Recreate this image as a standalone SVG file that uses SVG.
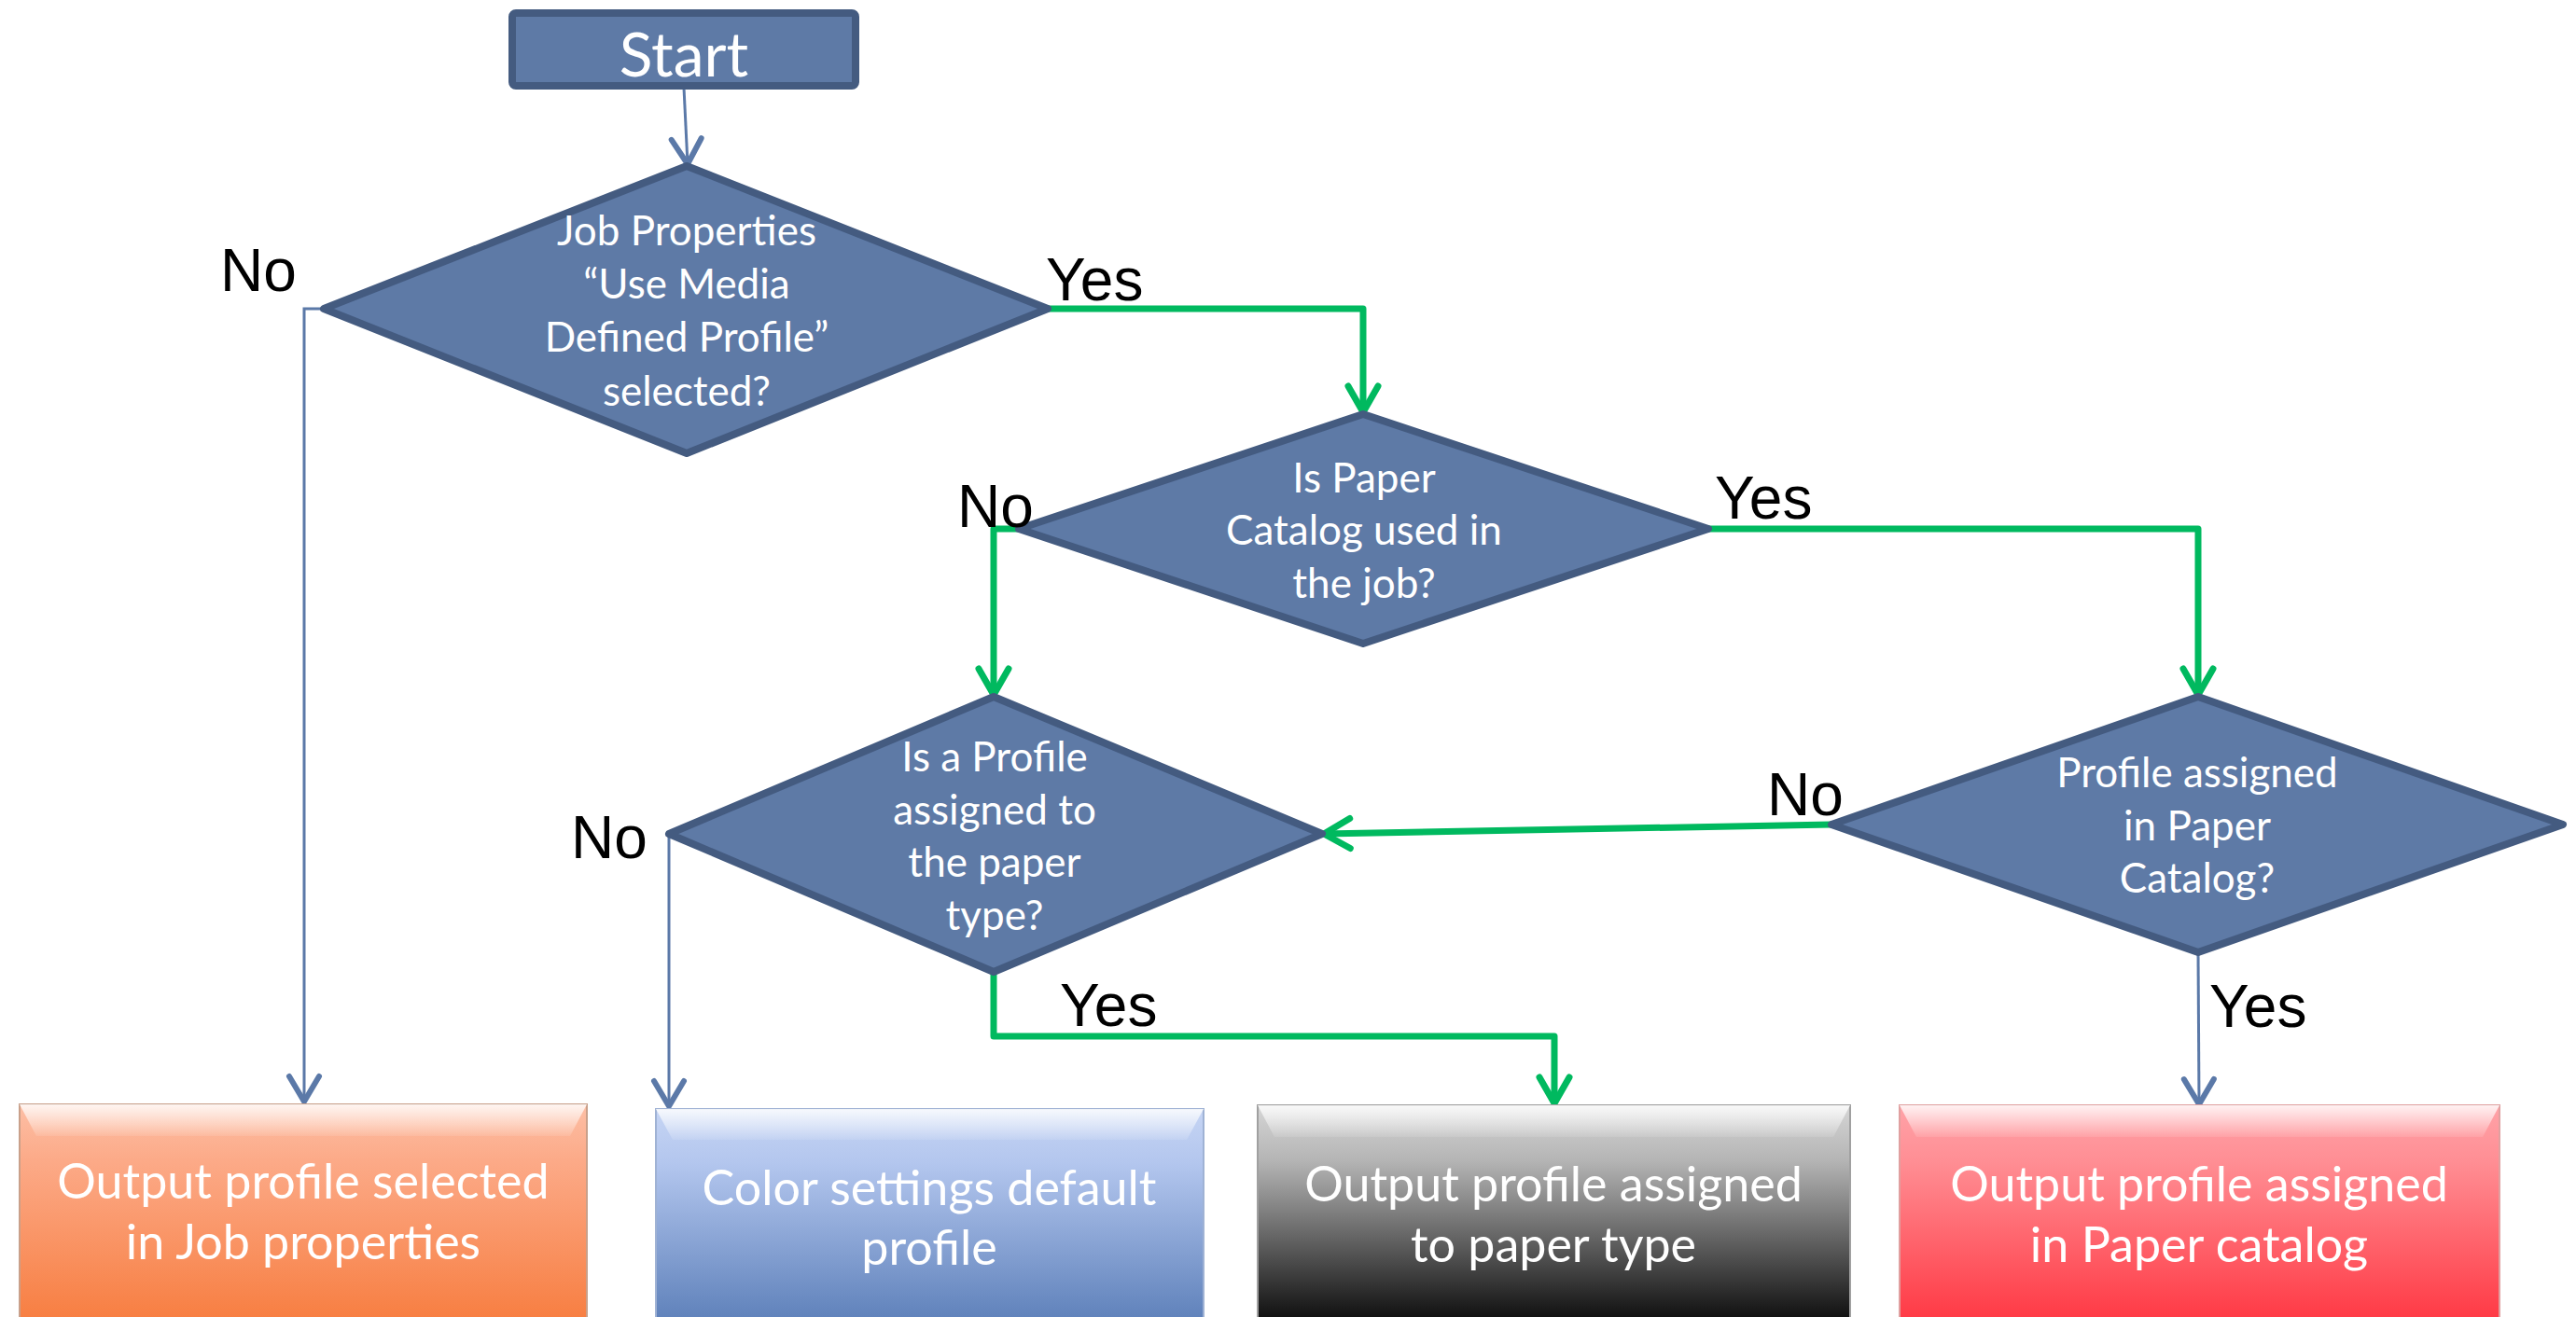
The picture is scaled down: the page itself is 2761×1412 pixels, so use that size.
<svg xmlns="http://www.w3.org/2000/svg" width="2761" height="1412" viewBox="0 0 2761 1412">
  <style>
    .dia { fill: #5e7aa6; stroke: #445b80; stroke-width: 8; stroke-linejoin: round; }
    .dtxt { font-family: Lato, "Open Sans", sans-serif; font-size: 44px; fill: #ffffff; text-anchor: middle; }
    .btxt { font-family: Lato, "Open Sans", sans-serif; font-size: 52px; fill: #ffffff; text-anchor: middle; }
    .lbl { font-family: "Liberation Sans", Arial, sans-serif; font-size: 64px; fill: #000000; }
    .blue { fill: none; stroke: #5b79a8; stroke-width: 3; marker-end: url(#arrBlue); }
    .green { fill: none; stroke: #00b95f; stroke-width: 7; stroke-linejoin: round; marker-end: url(#arrGreen); }
    .gloss { fill: url(#glossG); }
  </style>
  <defs>
    <marker id="arrGreen" markerUnits="userSpaceOnUse" markerWidth="50" markerHeight="50" refX="36" refY="25" orient="auto" overflow="visible">
      <path d="M8,9 L36,25 L8,41" fill="none" stroke="#00b95f" stroke-width="7" stroke-linecap="round" stroke-linejoin="round"/>
    </marker>
    <marker id="arrBlue" markerUnits="userSpaceOnUse" markerWidth="50" markerHeight="50" refX="36" refY="25" orient="auto" overflow="visible">
      <path d="M9,9 L36,25 L9,41" fill="none" stroke="#5b79a8" stroke-width="6" stroke-linecap="round" stroke-linejoin="round"/>
    </marker>
    <linearGradient id="gOrange" x1="0" y1="0" x2="0" y2="1">
      <stop offset="0" stop-color="#fdbfa6"/>
      <stop offset="0.25" stop-color="#fcaa88"/>
      <stop offset="1" stop-color="#f77c3e"/>
    </linearGradient>
    <linearGradient id="gBlue" x1="0" y1="0" x2="0" y2="1">
      <stop offset="0" stop-color="#c6d5f4"/>
      <stop offset="0.25" stop-color="#b3c6ee"/>
      <stop offset="1" stop-color="#5b7eb8"/>
    </linearGradient>
    <linearGradient id="gGray" x1="0" y1="0" x2="0" y2="1">
      <stop offset="0" stop-color="#d6d6d6"/>
      <stop offset="0.25" stop-color="#b4b4b4"/>
      <stop offset="1" stop-color="#050505"/>
    </linearGradient>
    <linearGradient id="gRed" x1="0" y1="0" x2="0" y2="1">
      <stop offset="0" stop-color="#ffa3a8"/>
      <stop offset="0.25" stop-color="#ff8e94"/>
      <stop offset="1" stop-color="#ff3440"/>
    </linearGradient>
    <linearGradient id="glossG" x1="0" y1="0" x2="0" y2="1">
      <stop offset="0" stop-color="#ffffff" stop-opacity="0.85"/>
      <stop offset="1" stop-color="#ffffff" stop-opacity="0.1"/>
    </linearGradient>
  </defs>

  <g id="connectors">
    <path class="blue" d="M733,94 L737,176"/>
    <path class="blue" d="M345,331 L326,331 L326,1181"/>
    <path class="blue" d="M717,894 L717,1186"/>
    <path class="blue" d="M2356,1021 L2357,1184"/>
    <path class="green" d="M1123,331 L1461,331 L1461,442"/>
    <path class="green" d="M1092,567 L1065,567 L1065,745"/>
    <path class="green" d="M1831,567 L2356,567 L2356,745"/>
    <path class="green" d="M1963,884 L1419,894"/>
    <path class="green" d="M1065,1042 L1065,1111 L1666,1111 L1666,1183"/>
  </g>

  <g id="start">
    <rect x="549" y="14" width="368" height="78" rx="4" fill="#5e7aa6" stroke="#445b80" stroke-width="8"/>
    <text x="733" y="82" font-family="Lato, 'Open Sans', sans-serif" font-size="66" fill="#ffffff" text-anchor="middle">Start</text>
  </g>

  <g id="d1">
    <polygon class="dia" points="736,178 1123,331 736,486 347,331"/>
    <text class="dtxt"><tspan x="736" y="263">Job Properties</tspan><tspan x="736" y="320">“Use Media</tspan><tspan x="736" y="377">Defined Profile”</tspan><tspan x="736" y="435">selected?</tspan></text>
  </g>

  <g id="d2">
    <polygon class="dia" points="1461,444 1831,567 1461,690 1092,567"/>
    <text class="dtxt"><tspan x="1462" y="528">Is Paper</tspan><tspan x="1462" y="584">Catalog used in</tspan><tspan x="1462" y="641">the job?</tspan></text>
  </g>

  <g id="d3">
    <polygon class="dia" points="1065,747 1417,894 1065,1042 717,894"/>
    <text class="dtxt"><tspan x="1066" y="827">Is a Profile</tspan><tspan x="1066" y="884">assigned to</tspan><tspan x="1066" y="940">the paper</tspan><tspan x="1066" y="997">type?</tspan></text>
  </g>

  <g id="d4">
    <polygon class="dia" points="2356,747 2747,884 2356,1021 1963,884"/>
    <text class="dtxt"><tspan x="2355" y="844">Profile assigned</tspan><tspan x="2355" y="901">in Paper</tspan><tspan x="2355" y="957">Catalog?</tspan></text>
  </g>

  <g id="box1">
    <rect x="21" y="1184" width="608" height="240" fill="url(#gOrange)" stroke="#c9a08a" stroke-width="2"/>
    <polygon class="gloss" points="21,1184 629,1184 611,1218 39,1218"/>
    <text class="btxt"><tspan x="325" y="1285">Output profile selected</tspan><tspan x="325" y="1350">in Job properties</tspan></text>
  </g>

  <g id="box2">
    <rect x="703" y="1189" width="587" height="235" fill="url(#gBlue)" stroke="#9fb2d4" stroke-width="2"/>
    <polygon class="gloss" points="703,1189 1290,1189 1272,1222 721,1222"/>
    <text class="btxt"><tspan x="996" y="1292">Color settings default</tspan><tspan x="996" y="1356">profile</tspan></text>
  </g>

  <g id="box3">
    <rect x="1348" y="1185" width="635" height="240" fill="url(#gGray)" stroke="#a0a0a0" stroke-width="2"/>
    <polygon class="gloss" points="1348,1185 1983,1185 1965,1219 1366,1219"/>
    <text class="btxt"><tspan x="1665" y="1288">Output profile assigned</tspan><tspan x="1665" y="1353">to paper type</tspan></text>
  </g>

  <g id="box4">
    <rect x="2036" y="1185" width="643" height="240" fill="url(#gRed)" stroke="#e0a0a0" stroke-width="2"/>
    <polygon class="gloss" points="2036,1185 2679,1185 2661,1219 2054,1219"/>
    <text class="btxt"><tspan x="2357" y="1288">Output profile assigned</tspan><tspan x="2357" y="1353">in Paper catalog</tspan></text>
  </g>

  <g id="labels">
    <text class="lbl" x="236" y="312">No</text>
    <text class="lbl" x="1121" y="322">Yes</text>
    <text class="lbl" x="1026" y="565">No</text>
    <text class="lbl" x="1838" y="556">Yes</text>
    <text class="lbl" x="612" y="920">No</text>
    <text class="lbl" x="1894" y="874">No</text>
    <text class="lbl" x="1136" y="1100">Yes</text>
    <text class="lbl" x="2368" y="1101">Yes</text>
  </g>
</svg>
